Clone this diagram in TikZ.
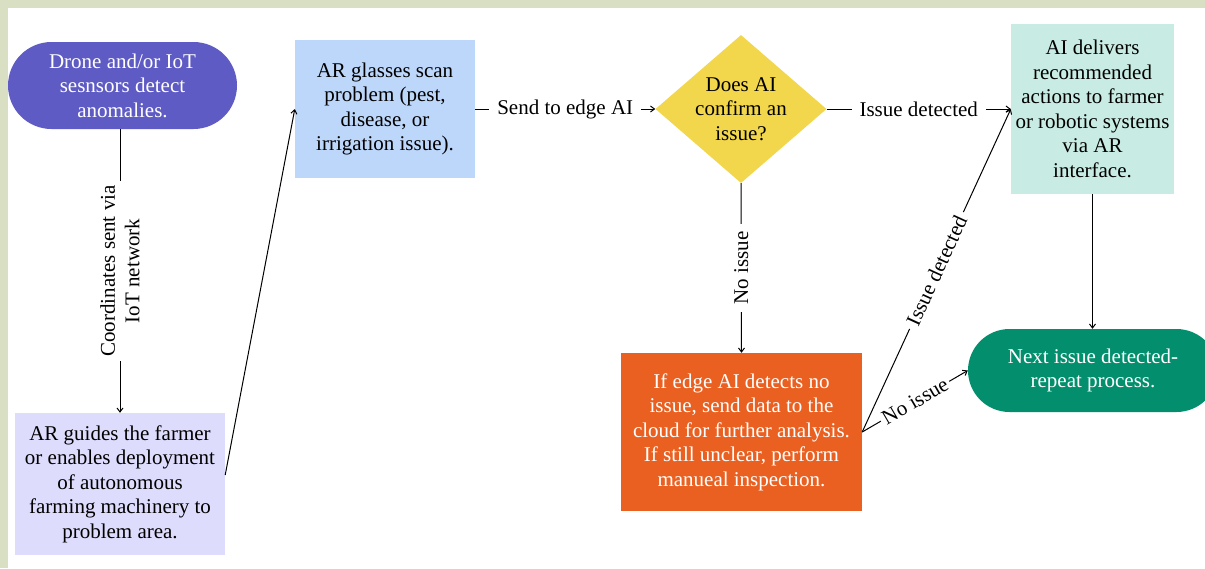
\documentclass[tikz,border=0pt]{standalone}
\usepackage{fontspec}
\setmainfont{Liberation Serif}
\usetikzlibrary{shapes.misc,shapes.geometric,arrows.meta}
\definecolor{bordercol}{RGB}{217,223,194}
\definecolor{purp}{RGB}{95,91,196}
\definecolor{lav}{RGB}{222,220,252}
\definecolor{lblue}{RGB}{189,215,250}
\definecolor{yel}{RGB}{242,214,75}
\definecolor{lteal}{RGB}{200,236,227}
\definecolor{orng}{RGB}{234,96,33}
\definecolor{dgreen}{RGB}{3,143,109}
\tikzset{
  txt/.style={font=\fontsize{21}{24.5}\selectfont, align=center},
  boxnode/.style={txt, rectangle, inner sep=0pt},
  stadium/.style={txt, rounded rectangle, inner sep=0pt, text=white},
  conn/.style={line width=1pt, -{Straight Barb[length=4pt,width=6pt]}},
  lab/.style={txt, fill=white, inner ysep=4pt, inner xsep=8pt},
  vlab/.style={txt, fill=white, inner sep=4pt}
}
\begin{document}
\begin{tikzpicture}[x=1pt,y=-1pt]
\useasboundingbox (0,0) rectangle (1205,568);
\fill[bordercol] (0,0) rectangle (1205,568);
\fill[white] (8,8) rectangle (1205,568);
\begin{scope}
\clip (8,8) rectangle (1205,568);
\node[stadium, fill=purp, minimum width=229, minimum height=87] (drone) at (122.5,85.5)
  {Drone and/or IoT\\ sesnsors detect\\ anomalies.};
\node[boxnode, fill=lav, minimum width=210, minimum height=142] (guide) at (120,484)
  {AR guides the farmer\\ or enables deployment\\ of autonomous\\ farming machinery to\\ problem area.};
\node[boxnode, fill=lblue, minimum width=180, minimum height=138] (scan) at (385,109)
  {AR glasses scan\\ problem (pest,\\ disease, or\\ irrigation issue).};
\node[diamond, fill=yel, minimum width=171, minimum height=148, inner sep=0pt] (dia) at (741,109) {};
\node[txt] (diatext) at (dia.center) {Does AI\\ confirm an\\ issue?};
\node[boxnode, fill=lteal, minimum width=163, minimum height=170] (act) at (1092.5,109)
  {AI delivers\\ recommended\\ actions to farmer\\ or robotic systems\\ via AR\\ interface.};
\node[boxnode, fill=orng, text=white, minimum width=241, minimum height=158] (cloud) at (741.5,432)
  {If edge AI detects no\\ issue, send data to the\\ cloud for further analysis.\\ If still unclear, perform\\ manueal inspection.};
\node[stadium, fill=dgreen, minimum width=250, minimum height=83] (next) at (1093,370.5)
  {Next issue detected-\\ repeat process.};
\end{scope}
\draw[conn] (guide.north |- drone.south) -- node[vlab, rotate=90] {Coordinates sent via\\ IoT network} (guide.north);
\draw[conn] ([yshift=9pt]guide.east) -- (scan.west);
\draw[conn] (scan.east) -- node[lab] {Send to edge AI} (dia.west);
\draw[conn] (dia.east) -- node[lab] {Issue detected} (act.west);
\draw[conn] (dia.south) -- node[lab, rotate=90] {No issue} (cloud.north);
\draw[conn] (cloud.east) -- node[lab, sloped, inner xsep=5pt] {Issue detected} (act.west);
\draw[conn] (cloud.east) -- node[lab, sloped, inner xsep=3pt, inner ysep=2pt] {No issue} (next.west);
\draw[conn] (act.south) -- (act.south |- next.north);
\end{tikzpicture}
\end{document}
